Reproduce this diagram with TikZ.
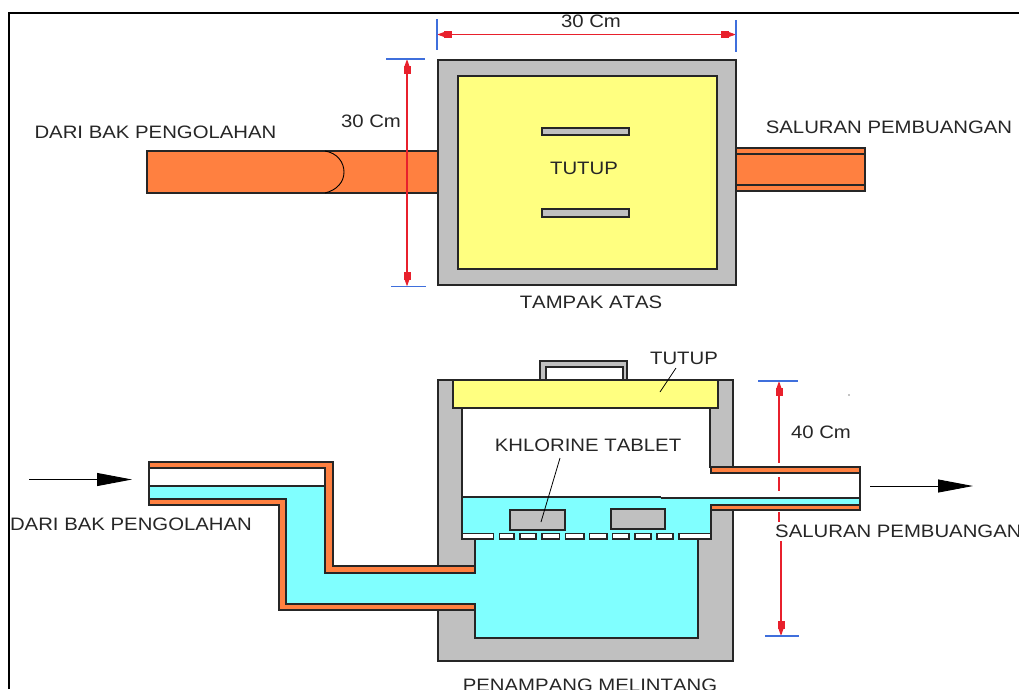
\documentclass[tikz,border=0pt]{standalone}
\usepackage{fontspec}
\setmainfont{Liberation Sans}[FakeStretch=1.13,Kerning=Off]
\usetikzlibrary{positioning}
\usetikzlibrary{arrows.meta}
\definecolor{pipeorange}{HTML}{FF8040}
\definecolor{lidyellow}{HTML}{FFFF80}
\definecolor{watercyan}{HTML}{80FFFF}
\definecolor{wallgray}{HTML}{C0C0C0}
\definecolor{dimred}{HTML}{E8202C}
\definecolor{tickblue}{HTML}{3F6FDC}
\definecolor{inkgray}{HTML}{262626}
\tikzset{
	dimtip/.tip={Rectangle[length=8pt,width=7pt,sep=0pt] Triangle[length=7pt,width=4.5pt,sep=0pt]},
	label/.style={text=inkgray, inner sep=0pt, font=\fontsize{18}{18}\selectfont},
	outline/.style={draw=black!85, line width=1.1pt},
	wall/.style={outline, fill=wallgray},
	pipe/.style={outline, fill=pipeorange},
	water/.style={fill=watercyan},
	dimline/.style={dimred, line width=1.1pt},
	tick/.style={tickblue, line width=1.2pt},
	flow/.style={line width=0.9pt, black, -{Triangle[length=35pt,width=13pt]}}
}
\begin{document}
\begin{tikzpicture}[x=1pt,y=-1pt]
	\useasboundingbox (0,0) rectangle (1019,689);
	% frame
	\draw[black, line width=1.6pt] (9,689) -- (9,13) -- (1019,13);

	% top view
	\draw[pipe] (147,151) rectangle (438,193);
	\draw[line width=0.9pt] (325,151) .. controls (337,153) and (344,162) .. (344,172) .. controls (344,182) and (337,190) .. (325,193);
	\draw[pipe] (736,148) rectangle (865,191);
	\draw[outline] (736,154) -- (865,154);
	\draw[outline] (736,185) -- (865,185);
	\node[wall, minimum width=298pt, minimum height=225pt, inner sep=0pt] (box) at (587,172.5) {};
	\node[outline, fill=lidyellow, minimum width=259pt, minimum height=193pt, inner sep=0pt] (lid) at (587.5,172.5) {};
	\draw[wall] (542,128) rectangle (629,135);
	\draw[wall] (542,209) rectangle (629,217);
	\node[label] (lidtext) at (584,168.5) {TUTUP};
	\node[label] (viewtop) at (591,302) {TAMPAK ATAS};
	\node[label] (srcA) at (155.5,132) {DARI BAK PENGOLAHAN};
	\node[label] (drainA) at (889,127) {SALURAN PEMBUANGAN};

	% dimensions of the top view
	\coordinate (wa) at (437,34.5);
	\coordinate (wb) at (736,34.5);
	\coordinate (ha) at (407,59);
	\coordinate (hb) at (407,286.5);
	\draw[dimline, line width=0.8pt, {dimtip}-{dimtip}] (wa) -- (wb);
	\draw[dimline, {dimtip}-{dimtip}] (ha) -- (hb);
	\draw[tick] (437,19) -- (437,50);
	\draw[tick] (736,20) -- (736,52);
	\draw[tick] (386,59) -- (425,59);
	\draw[tick] (391,286.5) -- (426,286.5);
	\node[label] (widthtext) at (591,21) {30 Cm};
	\node[label] (heighttext) at (371,121) {30 Cm};

	% cross section, walls
	\draw[wall] (438,380) -- (453,380) -- (453,408) -- (462,408) -- (462,539) -- (475,539) -- (475,566) -- (438,566) -- cycle;
	\draw[wall] (438,610) -- (475,610) -- (475,638) -- (698,638) -- (698,539) -- (711,539) -- (711,510) -- (733,510) -- (733,661) -- (438,661) -- cycle;
	\draw[wall] (718,380) -- (733,380) -- (733,467) -- (710,467) -- (710,408) -- (718,408) -- cycle;
	\draw[wall] (540,380) -- (540,361) -- (627,361) -- (627,380) -- (623,380) -- (623,367) -- (546,367) -- (546,380) -- cycle;
	\draw[outline, fill=lidyellow] (453,380) rectangle (718,408);

	% water
	\fill[water] (149,486) -- (325,486) -- (325,573) -- (475,573) -- (475,539) -- (698,539) -- (698,638) -- (475,638) -- (475,604) -- (286,604) -- (286,499) -- (149,499) -- cycle;
	\fill[water] (462,497) -- (661,497) -- (661,498) -- (860,498) -- (860,505) -- (711,505) -- (711,539) -- (462,539) -- cycle;
	\draw[outline] (462,408) -- (462,539);
	\draw[outline] (711,505) -- (711,539);
	\draw[outline] (462,497) -- (661,497);
	\draw[outline] (661,498) -- (860,498);
	\draw[outline] (149,486) -- (325,486);
	\draw[outline] (475,604) -- (475,638) -- (698,638) -- (698,539);
	\draw[outline] (475,539) -- (475,566);

	% inlet pipe
	\draw[pipe] (149,462) -- (333,462) -- (333,566) -- (475,566) -- (475,573) -- (325,573) -- (325,468) -- (149,468) -- cycle;
	\draw[pipe] (149,499) -- (286,499) -- (286,604) -- (475,604) -- (475,610) -- (279,610) -- (279,505) -- (149,505) -- cycle;
	\draw[outline] (149,468) -- (149,499);

	% outlet pipe
	\draw[pipe] (711,467) rectangle (860,473);
	\draw[pipe] (711,505) rectangle (860,510);
	\draw[outline] (860,473) -- (860,505);

	% sieve and tablets
	\draw[wall] (510,510) rectangle (565,530);
	\draw[wall] (611,509) rectangle (665,529);
	\foreach \xa/\xb in {462/493.5, 499.5/514, 520/536, 542/559.5, 565.5/584, 589.5/607, 612.5/629, 635/651, 657/673, 679/711}
		\draw[outline, fill=white] (\xa,533.5) rectangle (\xb,539);

	% labels and leaders of the cross section
	\node[label] (lidlabel) at (684,358) {TUTUP};
	\node[label] (tabletlabel) at (588,445) {KHLORINE TABLET};
	\coordinate (lidend) at (660,392);
	\coordinate (tabletend) at (541,522);
	\draw[line width=0.8pt] (676,368) -- (lidend);
	\draw[line width=0.8pt] (560,458) -- (tabletend);
	\node[label] (srcB) at (131,524.5) {DARI BAK PENGOLAHAN};
	\node[label, anchor=west] (drainB) at (775,531) {SALURAN PEMBUANGAN};
	\node[label] (viewcut) at (590,685) {PENAMPANG MELINTANG};

	% flow arrows
	\coordinate (ina) at (29,479.5);
	\coordinate (inb) at (132,479.5);
	\coordinate (outa) at (870,486);
	\coordinate (outb) at (973,486);
	\draw[flow] (ina) -- (inb);
	\draw[flow] (outa) -- (outb);

	% depth dimension, broken at the pipe
	\coordinate (da) at (779,381);
	\coordinate (db) at (781,636);
	\draw[dimline, {dimtip}-] (da) -- (779,463);
	\draw[dimline] (779,477) -- (779,491);
	\draw[dimline] (779,512) -- (779,522);
	\draw[dimline, -{dimtip}] (781,541) -- (db);
	\draw[tick] (758,381) -- (798,381);
	\draw[tick] (765,636) -- (799,636);
	\node[label] (depthtext) at (821,432) {40 Cm};
	\fill (849,395) circle (0.6pt);
\end{tikzpicture}
\end{document}
